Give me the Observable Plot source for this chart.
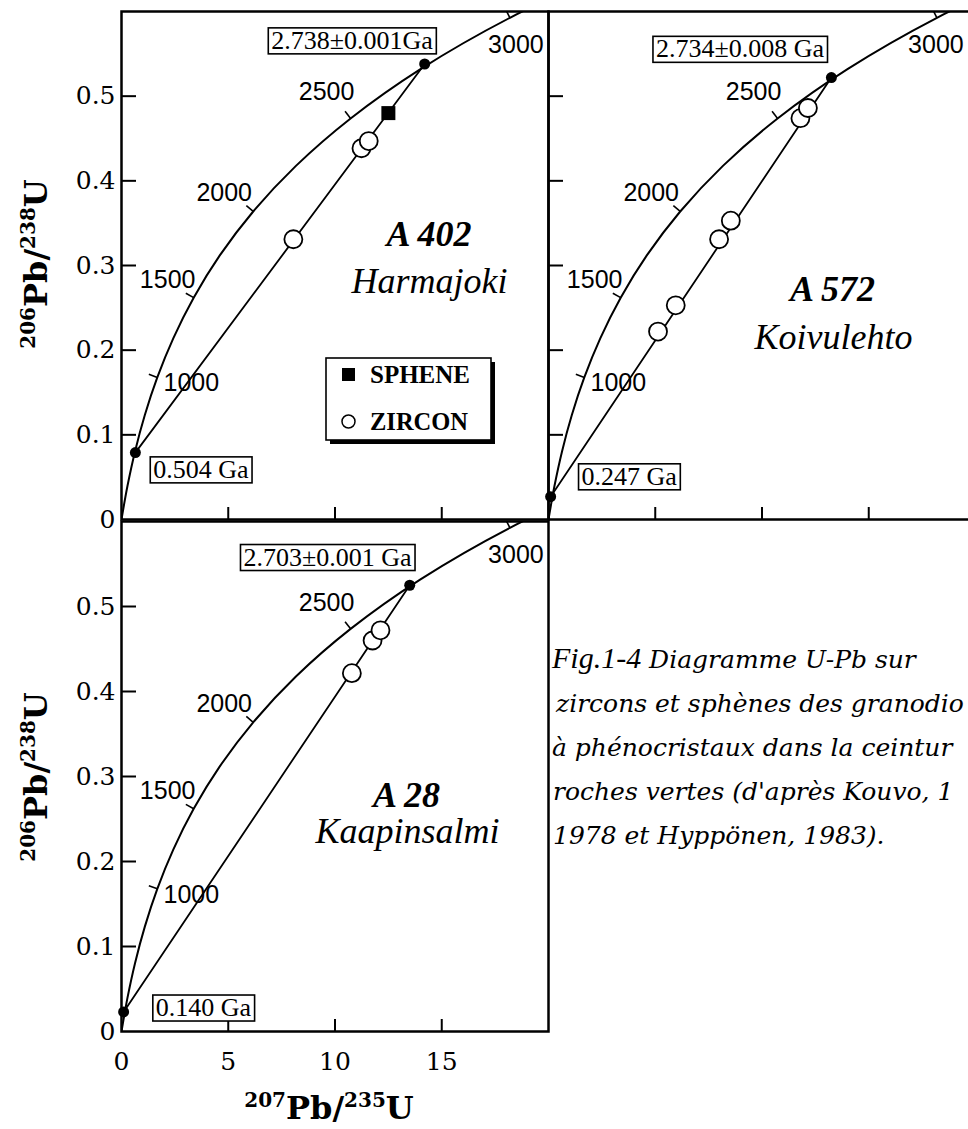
<!DOCTYPE html>
<html>
<head>
<meta charset="utf-8">
<script src="https://cdn.jsdelivr.net/npm/d3@7"></script>
<script src="https://cdn.jsdelivr.net/npm/@observablehq/plot@0.6"></script>
<style>
  html, body { margin: 0; padding: 0; background: #fff; width: 968px; height: 1129px; overflow: hidden; }
  #root { position: relative; width: 968px; height: 1129px; overflow: hidden; background: #fff; }
  .panel { position: absolute; overflow: visible; }
  .panel svg { overflow: visible; display: block; max-width: none !important; }
  #overlay { position: absolute; left: 0; top: 0; pointer-events: none; }
</style>
</head>
<body>
<div id="root"></div>
<script>
// ---------------- DATA ----------------
// Concordia curve (207Pb/235U , 206Pb/238U) at ages in Ma
const concordiaAgeMa      = [0, 250, 500, 750, 1000, 1250, 1500, 1750, 2000, 2250, 2500, 2750, 3000, 3250];
const concordiaPb207U235  = [0, 0.279, 0.636, 1.093, 1.677, 2.425, 3.381, 4.604, 6.169, 8.170, 10.730, 14.004, 18.193, 23.551];
const concordiaPb206U238  = [0, 0.0395, 0.0807, 0.1234, 0.1678, 0.2140, 0.2620, 0.3119, 0.3638, 0.4177, 0.4737, 0.5320, 0.5926, 0.6556];
const concordiaTickAges   = [1000, 1500, 2000, 2500, 3000];

const xTickValues = [0, 5, 10, 15];
const yTickValues = [0, 0.1, 0.2, 0.3, 0.4, 0.5];

// A 402 Harmajoki
const a402ZirconX = [8.05, 11.24, 11.58];
const a402ZirconY = [0.331, 0.4385, 0.447];
const a402SpheneX = [12.5];
const a402SpheneY = [0.480];
const a402InterceptX = [0.65, 14.2];
const a402InterceptY = [0.079, 0.538];
const a402InterceptLabels = ["0.504 Ga", "2.738±0.001Ga"];

// A 572 Koivulehto
const a572ZirconX = [5.13, 5.96, 7.99, 8.54, 11.80, 12.15];
const a572ZirconY = [0.222, 0.253, 0.331, 0.353, 0.474, 0.486];
const a572InterceptX = [0.1, 13.25];
const a572InterceptY = [0.027, 0.522];
const a572InterceptLabels = ["0.247 Ga", "2.734±0.008 Ga"];

// A 28 Kaapinsalmi
const a28ZirconX = [10.79, 11.76, 12.13];
const a28ZirconY = [0.4216, 0.460, 0.472];
const a28InterceptX = [0.1, 13.5];
const a28InterceptY = [0.023, 0.525];
const a28InterceptLabels = ["0.140 Ga", "2.703±0.001 Ga"];

const legendLabels = ["SPHENE", "ZIRCON"];

const captionLines = [
  " Diagramme U-Pb sur",
  "zircons et sphènes des granodio",
  "à phénocristaux dans la ceintur",
  "roches vertes (d'après Kouvo, 1",
  "1978 et Hyppönen, 1983)."
];

// ---------------- LAYOUT ----------------
const FRAME_W = 427;
const SERIF = "'Liberation Serif', 'Times New Roman', serif";
const WIDE_SERIF = "'DejaVu Serif', serif";
const SANS = "'Liberation Sans', Arial, sans-serif";
const ageLabelOffset = {1000: [34, 6], 1500: [-26, -18], 2000: [-29, -18], 2500: [-24, -26], 3000: [6, 27]};

const panels = [
  {
    left: 0, top: 0, marginLeft: 121, marginRight: 2, marginTop: 11, marginBottom: 2, frameH: 508,
    yAxis: true, xAxis: false, offsets: {},
    zx: a402ZirconX, zy: a402ZirconY, sx: a402SpheneX, sy: a402SpheneY,
    ix: a402InterceptX, iy: a402InterceptY, labels: a402InterceptLabels,
    labelPos: [[3.72, 0.059], [10.8, 0.5657]],
    title: "A 402", titlePos: [14.4, 0.337], name: "Harmajoki", namePos: [14.43, 0.281]
  },
  {
    left: 546, top: 0, marginLeft: 2, marginRight: 2, marginTop: 11, marginBottom: 2, frameH: 508,
    yAxis: false, xAxis: false, offsets: {3000: [-1, 27]},
    zx: a572ZirconX, zy: a572ZirconY, sx: [], sy: [],
    ix: a572InterceptX, iy: a572InterceptY, labels: a572InterceptLabels,
    labelPos: [[3.78, 0.0508], [8.97, 0.5557]],
    title: "A 572", titlePos: [13.3, 0.272], name: "Koivulehto", namePos: [13.35, 0.2155]
  },
  {
    left: 0, top: 510, marginLeft: 121, marginRight: 2, marginTop: 11, marginBottom: 50, frameH: 510,
    yAxis: true, xAxis: true, offsets: {},
    zx: a28ZirconX, zy: a28ZirconY, sx: [], sy: [],
    ix: a28InterceptX, iy: a28InterceptY, labels: a28InterceptLabels,
    labelPos: [[3.84, 0.028], [9.65, 0.558]],
    title: "A 28", titlePos: [13.35, 0.278], name: "Kaapinsalmi", namePos: [13.4, 0.235]
  }
];

const root = document.getElementById("root");

function concordiaTicks(kx, ky, len) {
  return concordiaTickAges.map(a => {
    const i = concordiaAgeMa.indexOf(a);
    const tx = (concordiaPb207U235[i + 1] - concordiaPb207U235[i - 1]) * kx;
    const ty = -(concordiaPb206U238[i + 1] - concordiaPb206U238[i - 1]) * ky;
    const n = Math.hypot(tx, ty);
    const nx = ty / n, ny = -tx / n; // screen normal pointing up-left
    return {
      x1: concordiaPb207U235[i], y1: concordiaPb206U238[i],
      x2: concordiaPb207U235[i] + nx * len / kx,
      y2: concordiaPb206U238[i] - ny * len / ky
    };
  });
}

function boxLabels(svg) {
  svg.querySelectorAll("text").forEach(t => {
    if (!/Ga$/.test(t.textContent)) return;
    const b = t.getBBox();
    const r = document.createElementNS("http://www.w3.org/2000/svg", "rect");
    r.setAttribute("x", b.x - 3);
    r.setAttribute("y", b.y + 2);
    r.setAttribute("width", b.width + 6);
    r.setAttribute("height", b.height - 3);
    r.setAttribute("fill", "white");
    r.setAttribute("stroke", "black");
    r.setAttribute("stroke-width", "1.6");
    const tr = t.getAttribute("transform");
    if (tr) r.setAttribute("transform", tr);
    t.parentNode.insertBefore(r, t);
  });
}

const conc = concordiaAgeMa.map((a, i) => ({age: a, x: concordiaPb207U235[i], y: concordiaPb206U238[i]}));

panels.forEach(P => {
  const kx = FRAME_W / 20, ky = P.frameH / 0.6;
  const ticks = concordiaTicks(kx, ky, 9);
  const zircons = P.zx.map((x, i) => ({x, y: P.zy[i]}));
  const sphene = P.sx.map((x, i) => ({x, y: P.sy[i]}));
  const intercepts = P.ix.map((x, i) => ({x, y: P.iy[i], label: P.labels[i], lx: P.labelPos[i][0], ly: P.labelPos[i][1]}));
  const off = a => P.offsets[a] || ageLabelOffset[a];

  const marks = [
    Plot.line(conc, {x: "x", y: "y", curve: "catmull-rom", stroke: "black", strokeWidth: 2, clip: true}),
    Plot.link(ticks, {x1: "x1", y1: "y1", x2: "x2", y2: "y2", stroke: "black", strokeWidth: 1.6, clip: true}),
    ...concordiaTickAges.map(a => Plot.text(conc.filter(c => c.age === a), {
      x: "x", y: "y", text: c => String(c.age),
      dx: off(a)[0], dy: off(a)[1],
      fontFamily: SANS, fontSize: 25, fill: "black", textAnchor: "middle", lineAnchor: "middle"
    })),
    Plot.line(intercepts, {x: "x", y: "y", stroke: "black", strokeWidth: 1.8}),
    Plot.dot(zircons, {x: "x", y: "y", r: 9, fill: "white", stroke: "black", strokeWidth: 1.8}),
    Plot.dot(sphene, {x: "x", y: "y", symbol: "square", r: 7.9, fill: "black"}),
    Plot.dot(intercepts, {x: "x", y: "y", r: 5.5, fill: "black"}),
    Plot.tickY(yTickValues.slice(1), {insetRight: FRAME_W - 15, stroke: "black", strokeWidth: 2}),
    Plot.tickX(xTickValues.slice(1), {insetTop: P.frameH - 12, stroke: "black", strokeWidth: 2}),
    Plot.text(intercepts, {x: "lx", y: "ly", text: "label", fontFamily: SERIF, fontSize: 26, fill: "black", textAnchor: "middle", lineAnchor: "middle"}),
    Plot.text([P.title], {x: () => P.titlePos[0], y: () => P.titlePos[1], text: d => d, fontFamily: SERIF, fontSize: 36, fontWeight: "bold", fontStyle: "italic", fill: "black"}),
    Plot.text([P.name], {x: () => P.namePos[0], y: () => P.namePos[1], text: d => d, fontFamily: SERIF, fontSize: 36, fontStyle: "italic", fill: "black"}),
    Plot.frame({stroke: "black", strokeWidth: 2.5})
  ];

  const W = P.marginLeft + FRAME_W + P.marginRight;
  const H = P.marginTop + P.frameH + P.marginBottom;
  const chart = Plot.plot({
    width: W, height: H,
    marginLeft: P.marginLeft, marginRight: P.marginRight,
    marginTop: P.marginTop, marginBottom: P.marginBottom,
    x: {domain: [0, 20], axis: P.xAxis ? "bottom" : null, ticks: xTickValues, tickSize: 0, tickPadding: 21, label: null, tickFormat: d => String(d)},
    y: {domain: [0, 0.6], axis: P.yAxis ? "left" : null, ticks: yTickValues, tickSize: 0, tickPadding: 6, label: null, tickFormat: d => d === 0 ? "0" : d.toFixed(1)},
    style: {fontFamily: WIDE_SERIF, fontSize: "25px", color: "black", background: "transparent", overflow: "visible", maxWidth: "none"},
    marks
  });
  const div = document.createElement("div");
  div.className = "panel";
  div.style.left = P.left + "px";
  div.style.top = P.top + "px";
  div.style.width = W + "px";
  div.style.height = H + "px";
  div.appendChild(chart);
  root.appendChild(div);
  const svg = chart.tagName.toLowerCase() === "svg" ? chart : chart.querySelector("svg");
  svg.style.maxWidth = "none";
  svg.style.width = W + "px";
  svg.style.height = H + "px";
  boxLabels(svg);
});

// ---------------- overlay: axis titles, legend, caption ----------------
const NS = "http://www.w3.org/2000/svg";
const ov = document.createElementNS(NS, "svg");
ov.setAttribute("id", "overlay");
ov.setAttribute("width", 968);
ov.setAttribute("height", 1129);
root.appendChild(ov);

function addText(parent, attrs, parts) {
  const t = document.createElementNS(NS, "text");
  for (const k in attrs) t.setAttribute(k, attrs[k]);
  parts.forEach(p => {
    const s = document.createElementNS(NS, "tspan");
    for (const k in p) if (k !== "text") s.setAttribute(k, p[k]);
    s.textContent = p.text;
    t.appendChild(s);
  });
  parent.appendChild(t);
  return t;
}
function axisTitle(numA, el, numB, el2) {
  return [
    {text: numA, "font-size": 20, dy: -12},
    {text: el, dy: 12},
    {text: numB, "font-size": 20, dy: -12},
    {text: el2, dy: 12}
  ];
}
const titleAttrs = {"font-family": "DejaVu Serif, serif", "font-weight": "bold", "font-size": 32, "text-anchor": "middle", fill: "black"};
addText(ov, Object.assign({transform: "translate(47,264) rotate(-90)"}, titleAttrs), axisTitle("206", "Pb/", "238", "U"));
addText(ov, Object.assign({transform: "translate(47,777) rotate(-90)"}, titleAttrs), axisTitle("206", "Pb/", "238", "U"));
addText(ov, Object.assign({x: 329, y: 1119}, titleAttrs), axisTitle("207", "Pb/", "235", "U"));

// legend
const lg = document.createElementNS(NS, "g");
ov.appendChild(lg);
function rect(p, a) { const r = document.createElementNS(NS, "rect"); for (const k in a) r.setAttribute(k, a[k]); p.appendChild(r); return r; }
rect(lg, {x: 330, y: 362, width: 165, height: 82, fill: "black"});
rect(lg, {x: 326, y: 358, width: 165, height: 82, fill: "white", stroke: "black", "stroke-width": 1.6});
rect(lg, {x: 342, y: 368, width: 13, height: 13, fill: "black"});
const lc = document.createElementNS(NS, "circle");
lc.setAttribute("cx", 348.5); lc.setAttribute("cy", 421.5); lc.setAttribute("r", 6.5);
lc.setAttribute("fill", "white"); lc.setAttribute("stroke", "black"); lc.setAttribute("stroke-width", 1.5);
lg.appendChild(lc);
addText(lg, {x: 370, y: 383, "font-family": SERIF, "font-weight": "bold", "font-size": 25, fill: "black"}, [{text: legendLabels[0]}]);
addText(lg, {x: 370, y: 430, "font-family": SERIF, "font-weight": "bold", "font-size": 24.5, fill: "black"}, [{text: legendLabels[1]}]);

// caption
const capAttrs = {"font-family": "DejaVu Serif, serif", "font-style": "italic", "font-size": 25, fill: "black"};
addText(ov, {x: 552, y: 668, fill: "black"}, [
  {text: "Fig.1-4", "font-family": SERIF, "font-style": "italic", "font-size": 30},
  {text: captionLines[0], "font-family": "DejaVu Serif, serif", "font-style": "italic", "font-size": 25}
]);
addText(ov, Object.assign({x: 556, y: 712}, capAttrs), [{text: captionLines[1]}]);
addText(ov, Object.assign({x: 552, y: 756}, capAttrs), [{text: captionLines[2]}]);
addText(ov, Object.assign({x: 553, y: 800}, capAttrs), [{text: captionLines[3]}]);
addText(ov, Object.assign({x: 553, y: 844}, capAttrs), [{text: captionLines[4]}]);
</script>
</body>
</html>
